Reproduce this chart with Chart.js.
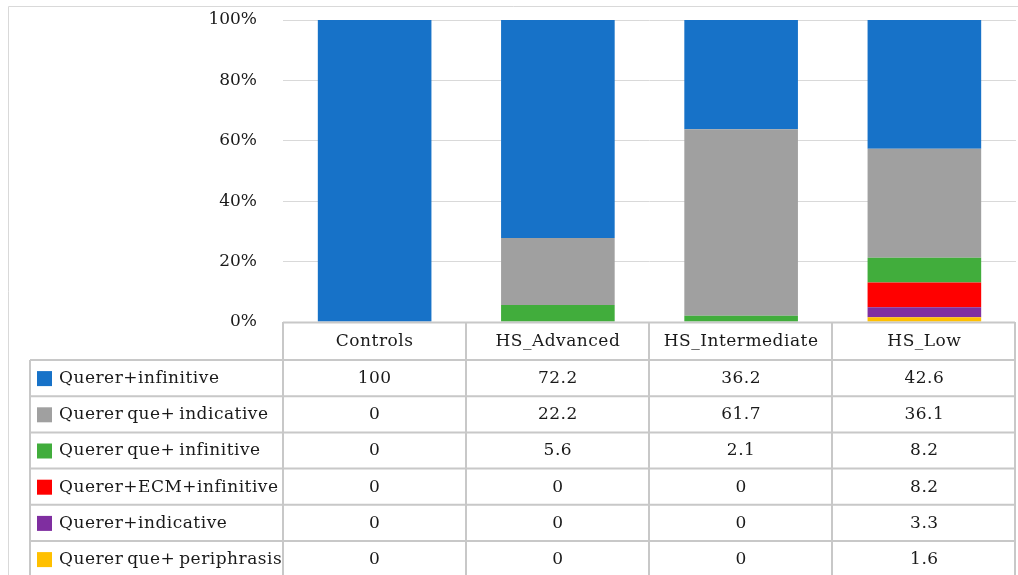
<!DOCTYPE html>
<html>
<head>
<meta charset="utf-8">
<script src="https://cdn.jsdelivr.net/npm/chart.js@4.4.1/dist/chart.umd.min.js"></script>
<style>
  html, body { margin: 0; padding: 0; background: #ffffff; }
  #wrap { width: 1018px; height: 575px; position: relative; }
</style>
</head>
<body>
<div id="wrap"><canvas id="c" width="1018" height="575"></canvas></div>
<script>
// ---- data ----
const categories = ['Controls', 'HS_Advanced', 'HS_Intermediate', 'HS_Low'];
const seriesNames = [
  'Querer+infinitive',
  'Querer que+ indicative',
  'Querer que+ infinitive',
  'Querer+ECM+infinitive',
  'Querer+indicative',
  'Querer que+ periphrasis'
];
const quererInfinitive      = [100, 72.2, 36.2, 42.6];
const quererQueIndicative   = [0, 22.2, 61.7, 36.1];
const quererQueInfinitive   = [0, 5.6, 2.1, 8.2];
const quererEcmInfinitive   = [0, 0, 0, 8.2];
const quererIndicative      = [0, 0, 0, 3.3];
const quererQuePeriphrasis  = [0, 0, 0, 1.6];
const yTickValues = [0, 20, 40, 60, 80, 100];

const seriesValues = [
  quererInfinitive, quererQueIndicative, quererQueInfinitive,
  quererEcmInfinitive, quererIndicative, quererQuePeriphrasis
];
const seriesColors = ['#1772C8', '#A0A0A0', '#41AD3C', '#FF0000', '#7F2EA0', '#FFC000'];

const FONT = "'DejaVu Serif', 'Liberation Serif', serif";
const TEXT = '#1a1a1a';

// stacking: first dataset drawn at the bottom, so reverse the table order
const datasets = seriesNames.map((name, i) => ({
  label: name,
  data: seriesValues[i],
  backgroundColor: seriesColors[i],
  borderWidth: 0,
  barPercentage: 0.62,
  categoryPercentage: 1.0
})).reverse();

const tablePlugin = {
  id: 'dataTable',
  afterDraw(chart) {
    const ctx = chart.ctx;
    const xs = chart.scales.x;
    const area = chart.chartArea;
    const left = area.left, right = area.right - 1;
    const top = area.bottom;
    const headerH = 38;
    const rowH = 36.2;
    const tableLeft = 30;
    const n = categories.length;
    const colW = (right - left) / n;

    ctx.save();
    // outer frame
    ctx.strokeStyle = '#d9d9d9';
    ctx.lineWidth = 1;
    ctx.beginPath();
    ctx.moveTo(8.5, 580);
    ctx.lineTo(8.5, 6.5);
    ctx.lineTo(1018, 6.5);
    ctx.stroke();

    // table grid
    ctx.strokeStyle = '#c8c8c8';
    ctx.lineWidth = 2;
    ctx.beginPath();
    ctx.moveTo(left, top + 0.5);
    ctx.lineTo(right, top + 0.5);
    const rows = seriesNames.length;
    for (let r = 0; r <= rows; r++) {
      const y = top + headerH + r * rowH;
      ctx.moveTo(tableLeft, y);
      ctx.lineTo(right, y);
    }
    const bottomY = top + headerH + rows * rowH + 10;
    ctx.moveTo(tableLeft, top + headerH);
    ctx.lineTo(tableLeft, bottomY);
    for (let c = 0; c <= n; c++) {
      const x = left + c * colW;
      ctx.moveTo(x, top);
      ctx.lineTo(x, bottomY);
    }
    ctx.stroke();

    // text
    ctx.fillStyle = TEXT;
    ctx.font = "17px " + FONT;
    ctx.textBaseline = 'middle';
    try { ctx.letterSpacing = '0.5px'; ctx.wordSpacing = '-2px'; } catch (e) {}
    ctx.textAlign = 'center';
    categories.forEach((cat, i) => {
      ctx.fillText(cat, xs.getPixelForValue(i), top + headerH / 2 + 0.5);
    });
    seriesNames.forEach((name, r) => {
      const cy = top + headerH + r * rowH + rowH / 2;
      ctx.fillStyle = seriesColors[r];
      ctx.fillRect(37, cy - 7, 15, 15);
      ctx.fillStyle = TEXT;
      ctx.textAlign = 'left';
      ctx.fillText(name, 59, cy + 0.5);
      ctx.textAlign = 'center';
      seriesValues[r].forEach((v, i) => {
        ctx.fillText(String(v), xs.getPixelForValue(i), cy + 0.5);
      });
    });
    ctx.restore();
  }
};

new Chart(document.getElementById('c'), {
  type: 'bar',
  data: { labels: categories, datasets },
  options: {
    responsive: false,
    animation: false,
    layout: { padding: { top: 20, right: 2, bottom: 253, left: 0 } },
    plugins: { legend: { display: false }, tooltip: { enabled: false } },
    scales: {
      x: { stacked: true, display: false },
      y: {
        stacked: true,
        min: 0,
        max: 100,
        afterBuildTicks(scale) { scale.ticks = yTickValues.map(v => ({ value: v })); },
        afterFit(scale) { scale.width = 283; },
        border: { display: false },
        grid: { color: '#d9d9d9', lineWidth: 1, drawTicks: true, tickLength: 23, tickColor: 'rgba(0,0,0,0)' },
        ticks: {
          padding: 3,
          color: TEXT,
          font: { family: FONT, size: 17 },
          callback: v => v + '%'
        }
      }
    }
  },
  plugins: [tablePlugin]
});
</script>
</body>
</html>
